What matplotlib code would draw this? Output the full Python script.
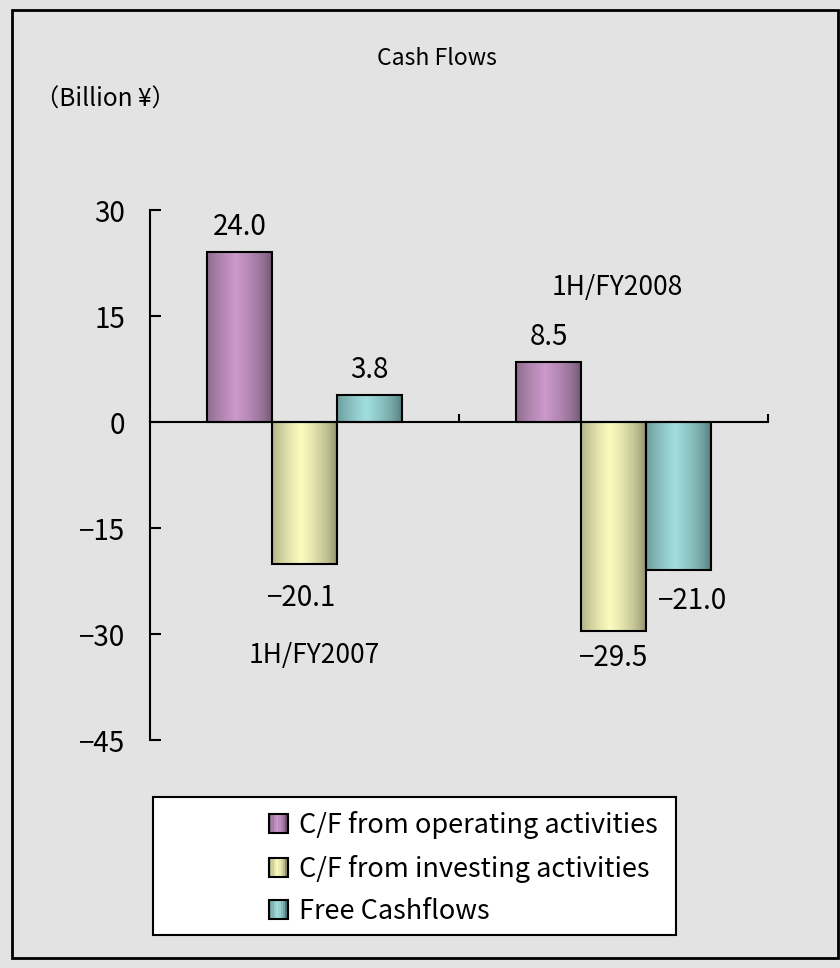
import numpy as np
import matplotlib
matplotlib.use("Agg")
import matplotlib.pyplot as plt
from matplotlib.patches import Rectangle, Patch
from matplotlib.legend_handler import HandlerPatch

plt.rcParams['font.family'] = ['Noto Sans CJK JP', 'DejaVu Sans']

periods = ['1H/FY2007', '1H/FY2008']
series = ['C/F from operating activities', 'C/F from investing activities', 'Free Cashflows']
operating = [24.0, 8.5]
investing = [-20.1, -29.5]
free_cf = [3.8, -21.0]
yticks = [30, 15, 0, -15, -30, -45]

light = ['#cc99cc', '#fcfcc0', '#a2dede']
dark = ['#6a526a', '#8a8a68', '#4e7676']

bg = '#e3e3e3'


def ramp(c_light, c_dark, n=64):
    l = np.array(matplotlib.colors.to_rgb(c_light))
    d = np.array(matplotlib.colors.to_rgb(c_dark))
    x = np.linspace(0, 1, n)
    f = np.clip(1 - np.abs(x - 0.45) / 0.55, 0, 1) ** 0.6
    return (d[None, :] + (l - d)[None, :] * f[:, None])[None, :, :]


class GradHandler(HandlerPatch):
    def __init__(self, c_light, c_dark):
        super().__init__()
        self.cl, self.cd = c_light, c_dark

    def create_artists(self, legend, orig, xd, yd, w, h, fontsize, trans):
        s = h
        x0, y0 = -xd + (w - s) / 2, -yd + (h - s) / 2
        img = ramp(self.cl, self.cd, 8)[0]
        arts = []
        for i, c in enumerate(img):
            arts.append(Rectangle((x0 + i * s / 8, y0), s / 8, s, facecolor=c,
                                  edgecolor='none', transform=trans))
        arts.append(Rectangle((x0, y0), s, s, facecolor='none', edgecolor='black',
                              lw=1.5, transform=trans))
        return arts


fig = plt.figure(figsize=(8.4, 9.68), dpi=100)
fig.patch.set_facecolor(bg)
fig.add_artist(Rectangle((0.014, 0.010), 0.984, 0.980, transform=fig.transFigure,
                         facecolor='none', edgecolor='black', lw=2))

ax = fig.add_axes([0.1786, 0.2355, 0.7357, 0.5475])
ax.set_facecolor(bg)

x = np.arange(len(periods))
w = 0.21
data = [operating, investing, free_cf]
for i, vals in enumerate(data):
    bars = ax.bar(x + (i - 1) * w, vals, w, facecolor='none', edgecolor='black',
                  lw=1.5, zorder=3)
    for b in bars:
        bx, by = b.get_x(), b.get_y()
        im = ax.imshow(ramp(light[i], dark[i]), aspect='auto', zorder=2,
                       extent=(bx, bx + b.get_width(), by, by + b.get_height()))
        im.set_clip_path(b)

# value labels (offsets in points from bar end)
offsets = [[(0, 18), (0, 18)], [(-2, -24.5), (0, -20)], [(0, 18), (10, -22)]]
for i, vals in enumerate(data):
    for j, v in enumerate(vals):
        dx, dy = offsets[i][j]
        ax.annotate(f'{v:.1f}'.replace('-', '\u2212'), (x[j] + (i - 1) * w, v),
                    xytext=(dx, dy), textcoords='offset points', ha='center',
                    va='center', fontsize=20)

ax.text(x[0] + 0.032, -33.0, periods[0], ha='center', va='center', fontsize=19)
ax.text(x[1] + 0.013, 19.0, periods[1], ha='center', va='center', fontsize=19)

ax.set_xlim(-0.5, 1.5)
ax.set_ylim(-45, 30)
ax.set_yticks(yticks)
ax.set_yticklabels([str(t).replace('-', '\u2212') for t in yticks], fontsize=20)
ax.tick_params(axis='y', direction='in', length=8, width=1.5, pad=18)
ax.set_xticks([-0.5, 0.5, 1.5])
ax.set_xticklabels([])
ax.tick_params(axis='x', direction='in', length=6, width=1.5)
for s in ['top', 'right']:
    ax.spines[s].set_visible(False)
ax.spines['bottom'].set_position(('data', 0))
ax.spines['left'].set_linewidth(1.5)
ax.spines['bottom'].set_linewidth(1.5)
ax.spines['bottom'].set_zorder(4)

fig.text(0.52, 0.94, 'Cash Flows', ha='center', va='center', fontsize=16.5)
fig.text(0.042, 0.897, '（Billion ¥）', ha='left', va='center', fontsize=17.5)

# legend box
fig.add_artist(Rectangle((0.182, 0.0341), 0.623, 0.1426, transform=fig.transFigure,
                         facecolor='white', edgecolor='black', lw=1.5))
handles = [Patch(label=s) for s in series]
fig.legend(handles=handles, loc='center left', bbox_to_anchor=(0.304, 0.1033),
           frameon=False, fontsize=19.5, labelspacing=0.57, handlelength=0.7,
           handleheight=0.7, handletextpad=0.4, borderpad=0,
           handler_map={h: GradHandler(light[k], dark[k]) for k, h in enumerate(handles)})

fig.savefig('out.png', dpi=100, facecolor=bg)
